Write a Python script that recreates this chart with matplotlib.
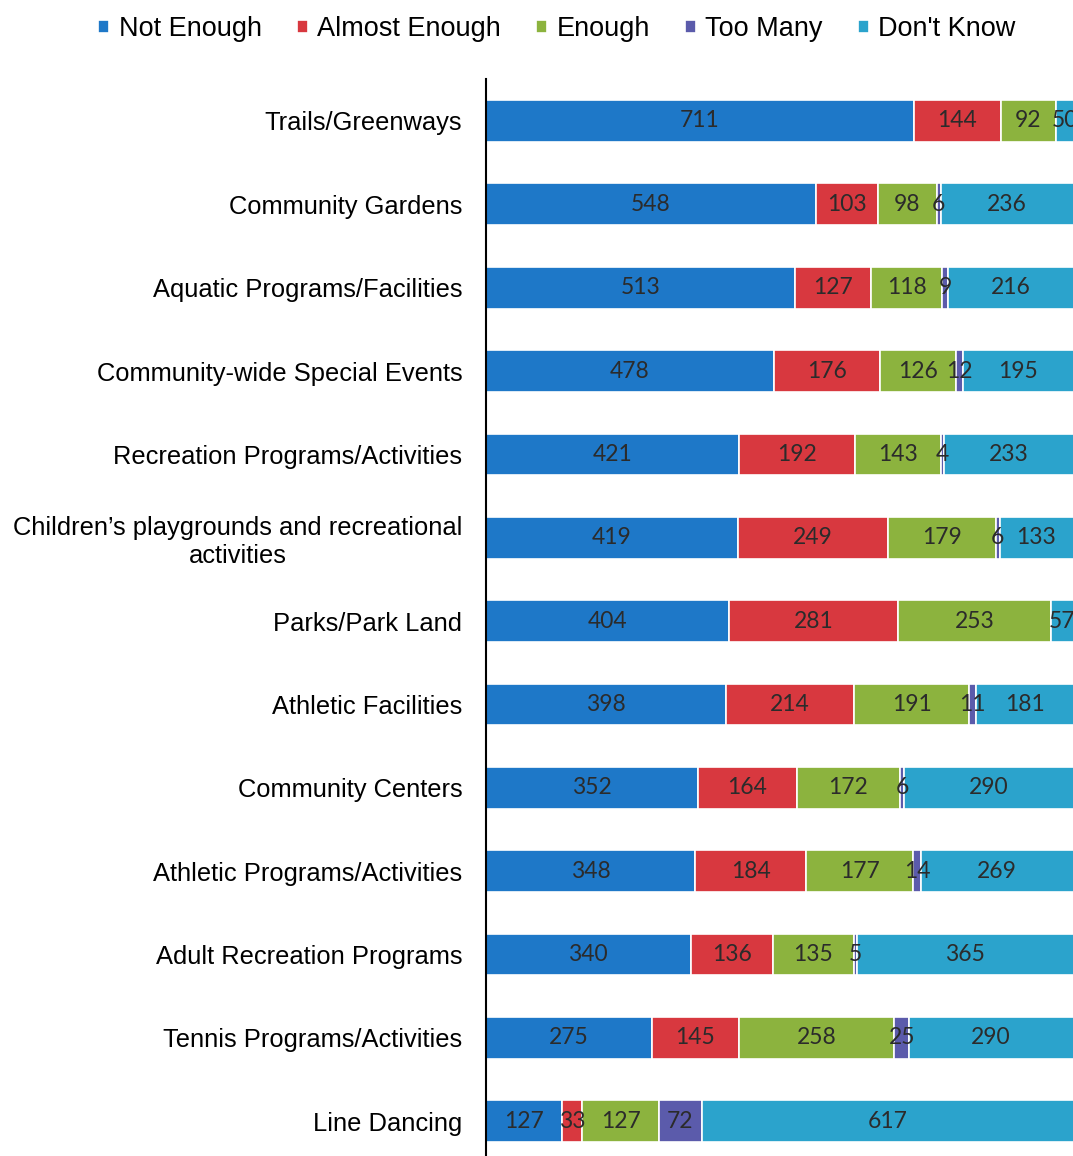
import numpy as np
import matplotlib.pyplot as plt

plt.rcParams['font.family'] = 'sans-serif'
plt.rcParams['font.sans-serif'] = ['Liberation Sans', 'DejaVu Sans']

categories = [
    "Trails/Greenways",
    "Community Gardens",
    "Aquatic Programs/Facilities",
    "Community-wide Special Events",
    "Recreation Programs/Activities",
    "Children\u2019s playgrounds and recreational\nactivities",
    "Parks/Park Land",
    "Athletic Facilities",
    "Community Centers",
    "Athletic Programs/Activities",
    "Adult Recreation Programs",
    "Tennis Programs/Activities",
    "Line Dancing",
]
series_names = ["Not Enough", "Almost Enough", "Enough", "Too Many", "Don't Know"]
not_enough = [711, 548, 513, 478, 421, 419, 404, 398, 352, 348, 340, 275, 127]
almost_enough = [144, 103, 127, 176, 192, 249, 281, 214, 164, 184, 136, 145, 33]
enough = [92, 98, 118, 126, 143, 179, 253, 191, 172, 177, 135, 258, 127]
too_many = [0, 6, 9, 12, 4, 6, 0, 11, 6, 14, 5, 25, 72]
dont_know = [50, 236, 216, 195, 233, 133, 57, 181, 290, 269, 365, 290, 617]

colors = ["#1E78C8", "#D8383F", "#8CB33E", "#5B5BAB", "#2BA3CC"]

fig = plt.figure(figsize=(10.73, 11.56), dpi=100, facecolor='w')
ax = fig.add_axes([0.4529, -0.006, 0.5471, 0.9374])

y = np.arange(len(categories))
left = np.zeros(len(categories))
handles = []
for name, vals, col in zip(series_names, [not_enough, almost_enough, enough, too_many, dont_know], colors):
    vals = np.array(vals, dtype=float)
    bars = ax.barh(y, vals, left=left, height=0.5, color=col, edgecolor='white', linewidth=1.2, label=name)
    texts = ax.bar_label(bars, labels=[str(int(v)) if v > 0 else '' for v in vals], label_type='center',
                         fontsize=16.5, family='Lato', color='#2b2b2b')
    for t in texts:
        t.set_va('center')
    handles.append(bars)
    left += vals

ax.set_xlim(0, 975)
ax.set_ylim(len(categories) - 0.5, -0.5)
ax.set_yticks(y, categories)
ax.tick_params(axis='y', length=0, pad=17, labelsize=18.4)
for lab in ax.get_yticklabels():
    lab.set_multialignment('center')
ax.set_xticks([])
for s in ['top', 'right', 'bottom']:
    ax.spines[s].set_visible(False)
ax.spines['left'].set_color('black')
ax.spines['left'].set_linewidth(1.5)

fig.legend(handles=handles, labels=series_names, loc='upper center', bbox_to_anchor=(0.519, 1.007), ncol=5,
           frameon=False, fontsize=19.5, handlelength=0.4, handleheight=0.4, handletextpad=0.35,
           columnspacing=1.3)

plt.savefig('out.png', dpi=100, facecolor='w')
plt.close()
